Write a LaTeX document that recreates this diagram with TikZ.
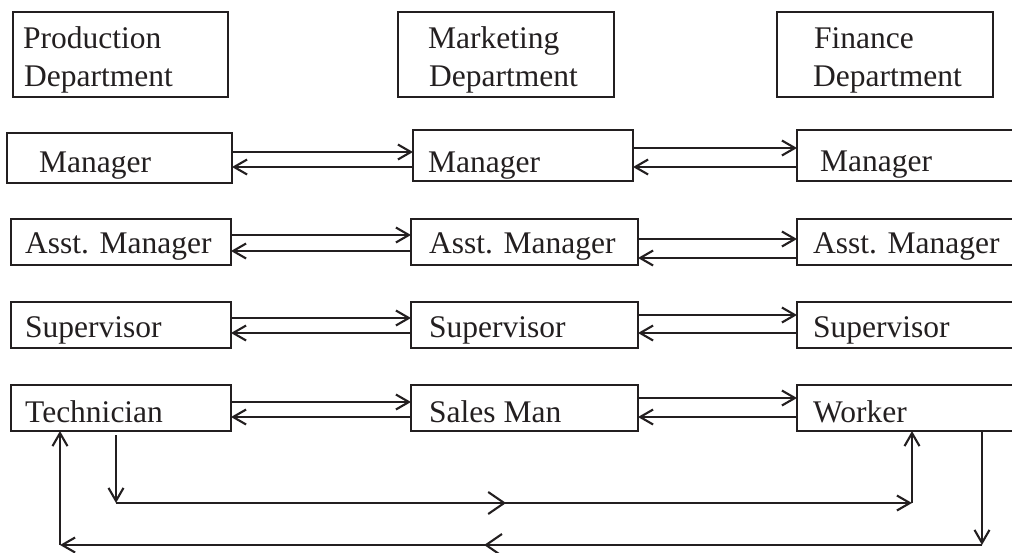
\documentclass[tikz,border=0pt]{standalone}
\usepackage{fontspec}
\setmainfont{Liberation Serif}
\usetikzlibrary{arrows.meta,decorations.markings}
\definecolor{ink}{RGB}{35,31,32}
\begin{document}
\begin{tikzpicture}[x=1pt,y=-1pt,
  box/.style={draw=ink, line width=2.5pt, rectangle, inner sep=0pt, outer sep=0pt},
  lbl/.style={anchor=base west, inner sep=0pt, text=ink, font=\fontsize{31.5}{38}\selectfont},
  tipA/.tip={Straight Barb[length=13pt,width=15pt,line width=2.1pt]},
  arr/.style={draw=ink, line width=2.2pt, -{tipA}},
  midarrow/.style={postaction={decorate}, decoration={markings, mark=at position #1 with {\arrow[ink]{Straight Barb[length=16pt,width=22pt,line width=2.1pt]}}}}]
\useasboundingbox (0,0) rectangle (1012,552);
\clip (0,0) rectangle (1012,552);
% department headers
\node[box, minimum width=215pt, minimum height=85pt] (pd) at (120.5,54.5) {};
\node[box, minimum width=216pt, minimum height=85pt] (md) at (506,54.5) {};
\node[box, minimum width=216pt, minimum height=85pt] (fd) at (885,54.5) {};
\node[lbl] (pdt1) at (23,48) {Production};
\node[lbl] (pdt2) at (24,86) {Department};
\node[lbl] (mdt1) at (428,48) {Marketing};
\node[lbl] (mdt2) at (429,86) {Department};
\node[lbl] (fdt1) at (814,48) {Finance};
\node[lbl] (fdt2) at (813,86) {Department};
% row 1
\node[box, minimum width=225pt, minimum height=50pt] (pm) at (119.5,158) {};
\node[box, minimum width=220pt, minimum height=51pt] (mm) at (523,155.5) {};
\node[box, minimum width=223pt, minimum height=51pt] (fm) at (908.5,155.5) {};
\node[lbl] (pmt) at (39,172) {Manager};
\node[lbl] (mmt) at (428,172) {Manager};
\node[lbl] (fmt) at (820,171) {Manager};
% row 2
\node[box, minimum width=220pt, minimum height=46pt] (pa) at (121,242) {};
\node[box, minimum width=227pt, minimum height=46pt] (ma) at (524.5,242) {};
\node[box, minimum width=223pt, minimum height=46pt] (fa) at (908.5,242) {};
\node[lbl] (pat) at (25,253) {Asst. Manager};
\node[lbl] (mat) at (429,253) {Asst. Manager};
\node[lbl] (fat) at (813,253) {Asst. Manager};
% row 3
\node[box, minimum width=220pt, minimum height=46pt] (ps) at (121,325) {};
\node[box, minimum width=227pt, minimum height=46pt] (ms) at (524.5,325) {};
\node[box, minimum width=223pt, minimum height=46pt] (fs) at (908.5,325) {};
\node[lbl] (pst) at (25,337) {Supervisor};
\node[lbl] (mst) at (429,337) {Supervisor};
\node[lbl] (fst) at (813,337) {Supervisor};
% row 4
\node[box, minimum width=220pt, minimum height=46pt] (pt) at (121,408) {};
\node[box, minimum width=227pt, minimum height=46pt] (mt) at (524.5,408) {};
\node[box, minimum width=223pt, minimum height=46pt] (ft) at (908.5,408) {};
\node[lbl] (ptt) at (25,422) {Technician};
\node[lbl] (mtt) at (429,422) {Sales Man};
\node[lbl] (ftt) at (813,422) {Worker};
% horizontal connectors
\draw[arr] (pm.east |- 0,152) -- (mm.west |- 0,152);
\draw[arr] (mm.west |- 0,167) -- (pm.east |- 0,167);
\draw[arr] (mm.east |- 0,148) -- (fm.west |- 0,148);
\draw[arr] (fm.west |- 0,167) -- (mm.east |- 0,167);
\draw[arr] (pa.east |- 0,235) -- (ma.west |- 0,235);
\draw[arr] (ma.west |- 0,251) -- (pa.east |- 0,251);
\draw[arr] (ma.east |- 0,239) -- (fa.west |- 0,239);
\draw[arr] (fa.west |- 0,258) -- (ma.east |- 0,258);
\draw[arr] (ps.east |- 0,318) -- (ms.west |- 0,318);
\draw[arr] (ms.west |- 0,333) -- (ps.east |- 0,333);
\draw[arr] (ms.east |- 0,315) -- (fs.west |- 0,315);
\draw[arr] (fs.west |- 0,333) -- (ms.east |- 0,333);
\draw[arr] (pt.east |- 0,402) -- (mt.west |- 0,402);
\draw[arr] (mt.west |- 0,417) -- (pt.east |- 0,417);
\draw[arr] (mt.east |- 0,398) -- (ft.west |- 0,398);
\draw[arr] (ft.west |- 0,417) -- (mt.east |- 0,417);
% bottom loops
\coordinate (c1) at (116,503);
\coordinate (c2) at (912,503);
\coordinate (c3) at (982,545);
\coordinate (c4) at (60,545);
\draw[arr, shorten <=4pt] (pt.south -| c1) -- (c1);
\draw[arr, midarrow=0.49] (c1) -- (c2);
\draw[arr] (c2) -- (ft.south -| c2);
\draw[arr] (ft.south -| c3) -- (c3);
\draw[arr, midarrow=0.54] (c3) -- (c4);
\draw[arr] (c4) -- (pt.south -| c4);
\end{tikzpicture}
\end{document}
